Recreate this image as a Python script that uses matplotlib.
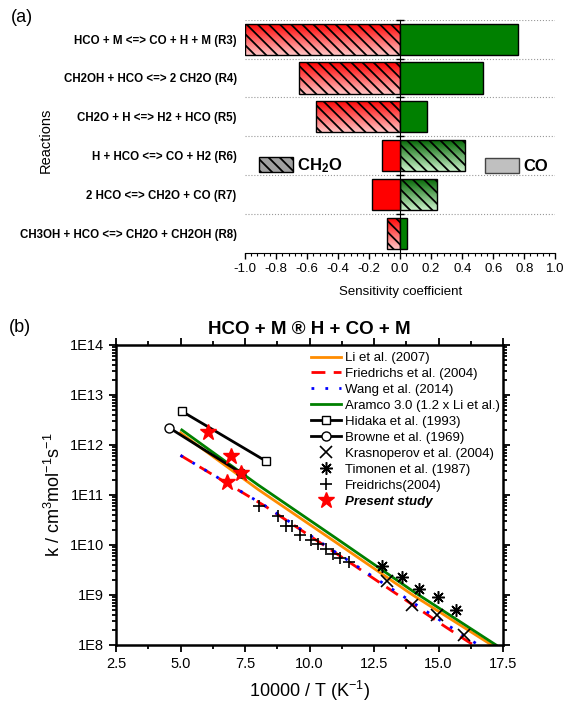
import numpy as np
import matplotlib.pyplot as plt
from matplotlib.colors import LinearSegmentedColormap
from matplotlib.patches import Patch
from matplotlib.ticker import MultipleLocator, LogLocator, FuncFormatter, NullFormatter, FormatStrFormatter

plt.rcParams['font.family'] = ['Liberation Sans', 'DejaVu Sans']
plt.rcParams['mathtext.default'] = 'regular'
plt.rcParams['axes.unicode_minus'] = False
plt.rcParams['hatch.linewidth'] = 1.3

# (a) sensitivity of CH2O and CO
reactions = ['HCO + M <=> CO + H + M (R3)',
             'CH2OH + HCO <=> 2 CH2O (R4)',
             'CH2O + H <=> H2 + HCO (R5)',
             'H + HCO <=> CO + H2 (R6)',
             '2 HCO <=> CH2O + CO (R7)',
             'CH3OH + HCO <=> CH2O + CH2OH (R8)']
sens_ch2o = [-1.0, -0.65, -0.54, 0.42, 0.235, -0.085]
sens_co = [0.76, 0.535, 0.175, -0.12, -0.18, 0.045]

# (b) rate constants, x = 10000/T
li_x = [5.0, 8.0, 11.0, 14.0, 17.06]
li_k = [1.75e12, 1.3e11, 1.15e10, 1.0e9, 1.0e8]
fr_x = [5.0, 8.3, 11.8, 15.3, 16.35]
fr_k = [6.2e11, 5.9e10, 3.7e9, 2.25e8, 1.0e8]
wang_x = [5.0, 8.3, 11.7, 14.4, 16.55]
wang_k = [6.2e11, 6.0e10, 4.2e9, 5.2e8, 1.0e8]
aramco_x = [5.05, 8.0, 11.0, 14.0, 17.23]
aramco_k = [2.0e12, 1.6e11, 1.4e10, 1.2e9, 1.0e8]
hidaka_x = [5.06, 8.33]
hidaka_k = [4.7e12, 4.7e11]
browne_x = [4.57, 7.35]
browne_k = [2.2e12, 2.75e11]
kras_x = [13.0, 13.97, 14.94, 15.97]
kras_k = [1.9e9, 6.3e8, 4.0e8, 1.6e8]
timo_x = [12.8, 13.57, 14.26, 14.97, 15.68]
timo_k = [3.8e9, 2.25e9, 1.32e9, 9.0e8, 5.0e8]
freid_x = [8.06, 8.76, 9.07, 9.33, 9.64, 10.06, 10.32, 10.65, 10.91, 11.2, 11.55]
freid_k = [6.0e10, 3.8e10, 2.45e10, 2.4e10, 1.62e10, 1.28e10, 1.05e10, 8.4e9, 6.7e9, 5.4e9, 4.5e9]
pres_x = [6.07, 6.95, 7.35, 6.81]
pres_k = [1.85e12, 5.95e11, 2.7e11, 1.78e11]

fig = plt.figure(figsize=(5.66, 7.04), dpi=100)

# ---------------- panel (a)
ax1 = fig.add_axes([0.433, 0.641, 0.548, 0.331])
rows = np.arange(len(reactions))
h = 0.8
red_grad = LinearSegmentedColormap.from_list('rg', ['#ff0000', '#ffc4c4'])
green_grad = LinearSegmentedColormap.from_list('gg', ['#006400', '#c8f0c8'])
grad = np.linspace(0, 1, 64).reshape(-1, 1)

for i in rows:
    v = sens_ch2o[i]
    bar = ax1.barh(i, v, height=h, facecolor='none', edgecolor='k', hatch='\\\\\\', lw=1, zorder=3)[0]
    im = ax1.imshow(grad, cmap=red_grad if v < 0 else green_grad, extent=(0, v, i - h / 2, i + h / 2),
                    origin='lower', aspect='auto', zorder=2)
    im.set_clip_path(bar)
    v = sens_co[i]
    ax1.barh(i, v, height=h, color='#ff0000' if v < 0 else '#008000', edgecolor='k', lw=1, zorder=3)

ax1.set_xlim(-1, 1)
ax1.set_ylim(5.5, -0.5)
ax1.set_yticks(rows)
ax1.set_yticks(np.arange(-0.5, 5, 1), minor=True)
ax1.tick_params(axis='y', which='major', left=False, right=False, labelleft=True, length=0, pad=6)
ax1.tick_params(axis='y', which='minor', left=False, right=True, direction='inout', length=6, width=1)
ax1.spines['left'].set_visible(False)
ax1.spines['top'].set_visible(False)
ax1.spines['right'].set_position(('data', 0))
ax1.grid(axis='y', which='minor', linestyle=':', color='#999999', lw=0.8)
ax1.set_axisbelow(True)
ax1.xaxis.set_major_locator(MultipleLocator(0.2))
ax1.xaxis.set_minor_locator(MultipleLocator(0.04))
ax1.xaxis.set_major_formatter(FormatStrFormatter('%.1f'))
ax1.tick_params(axis='x', which='major', length=4, width=1, labelsize=9.5)
ax1.tick_params(axis='x', which='minor', length=2.5, width=0.8)
ax1.set_yticklabels(reactions)
for lab in ax1.get_yticklabels():
    lab.set_fontweight('bold')
    lab.set_fontsize(8.3)
ax1.set_xlabel('Sensitivity coefficient', fontsize=9.5, labelpad=8)
fig.text(0.08, 1 - 140 / 704, 'Reactions', rotation=90, ha='center', va='center', fontsize=10.5)
fig.text(22 / 566, 1 - 17 / 704, '(a)', ha='center', va='center', fontsize=13)

leg_a1 = ax1.legend(handles=[Patch(facecolor='#a0a0a0', edgecolor='k', hatch='\\\\\\', label='CH$_2$O')],
                    loc='center left', bbox_to_anchor=(0.045, 0.373), frameon=False, borderpad=0,
                    borderaxespad=0, handlelength=2.05, handleheight=1.0, handletextpad=0.25,
                    prop={'weight': 'bold', 'size': 12})
ax1.add_artist(leg_a1)
ax1.legend(handles=[Patch(facecolor='#c0c0c0', edgecolor='#444444', label='CO')],
           loc='center left', bbox_to_anchor=(0.774, 0.373), frameon=False, borderpad=0,
           borderaxespad=0, handlelength=2.05, handleheight=1.0, handletextpad=0.25,
           prop={'weight': 'bold', 'size': 12})

# ---------------- panel (b)
ax2 = fig.add_axes([116 / 566, 59 / 704, 387 / 566, 300 / 704])
ax2.set_yscale('log')
ax2.plot(li_x, li_k, color='#ff8c00', lw=2, label='Li et al. (2007)')
ax2.plot(fr_x, fr_k, color='#ff0000', lw=2, dashes=(5, 3), label='Friedrichs et al. (2004)')
ax2.plot(wang_x, wang_k, color='#0000ff', lw=2, dashes=(1, 4), label='Wang et al. (2014)')
ax2.plot(aramco_x, aramco_k, color='#008000', lw=2, label='Aramco 3.0 (1.2 x Li et al.)')
ax2.plot(hidaka_x, hidaka_k, color='k', lw=2, marker='s', ms=6, mfc='white', mec='k', mew=1,
         label='Hidaka et al. (1993)')
ax2.plot(browne_x, browne_k, color='k', lw=2, marker='o', ms=6.5, mfc='white', mec='k', mew=1,
         label='Browne et al. (1969)')
ax2.plot(kras_x, kras_k, ls='none', marker='x', ms=8, mew=1.2, color='k', label='Krasnoperov et al. (2004)')
ax2.plot(timo_x, timo_k, ls='none', marker=(8, 2, 0), ms=9, mew=1.1, color='k', label='Timonen et al. (1987)')
ax2.plot(freid_x, freid_k, ls='none', marker='+', ms=8, mew=1.2, color='k', label='Freidrichs(2004)')
ax2.plot(pres_x, pres_k, ls='none', marker='*', ms=12, color='#ff0000', mec='#ff0000', label='Present study',
         zorder=5)

ax2.set_xlim(2.5, 17.5)
ax2.set_ylim(1e8, 1e14)
ax2.xaxis.set_major_locator(MultipleLocator(2.5))
ax2.xaxis.set_minor_locator(MultipleLocator(1.25))
ax2.xaxis.set_major_formatter(FormatStrFormatter('%.1f'))
ax2.yaxis.set_major_locator(LogLocator(base=10, numticks=10))
ax2.yaxis.set_minor_locator(LogLocator(base=10, subs=np.arange(2, 10), numticks=10))
ax2.yaxis.set_major_formatter(FuncFormatter(lambda v, p: '1E%d' % round(np.log10(v))))
ax2.yaxis.set_minor_formatter(NullFormatter())
ax2.tick_params(which='both', direction='out', top=True, right=True, width=1.3, labelsize=10.5)
ax2.tick_params(which='major', length=5)
ax2.tick_params(which='minor', length=3)
for s in ax2.spines.values():
    s.set_linewidth(1.8)
ax2.set_xlabel('10000 / T (K$^{-1}$)', fontsize=13, labelpad=6)
ax2.set_ylabel('k / cm$^3$mol$^{-1}$s$^{-1}$', fontsize=13, labelpad=4)
ax2.set_title('HCO + M \u00ae H + CO + M', fontweight='bold', fontsize=13.5, pad=8)
fig.text(20 / 566, 1 - 328 / 704, '(b)', ha='center', va='center', fontsize=13)

leg = ax2.legend(loc='upper left', bbox_to_anchor=(0.504, 0.977), frameon=False, borderpad=0,
                 borderaxespad=0, fontsize=9.5, handlelength=2.3, handletextpad=0.3, labelspacing=0.28)
leg.get_texts()[-1].set_fontweight('bold')
leg.get_texts()[-1].set_fontstyle('italic')

fig.savefig('out.png', dpi=100)
